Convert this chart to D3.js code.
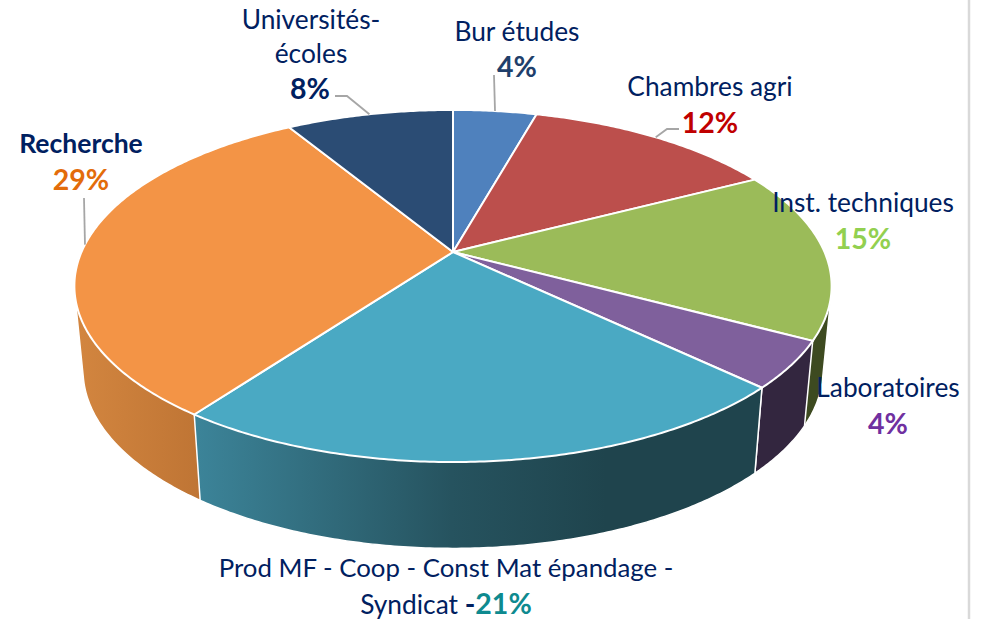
<!DOCTYPE html>
<html>
<head>
<meta charset="utf-8">
<script src="https://cdn.jsdelivr.net/npm/d3@7"></script>
<style>
	html, body { margin: 0; padding: 0; background: #fff; }
	svg { display: block; }
	text { font-family: Lato, 'Open Sans', sans-serif; font-size: 26.3px; fill: #002060; text-anchor: middle; }
	.pct { font-weight: bold; font-size: 28.5px; }
</style>
</head>
<body>
<div id="chart"></div>
<script>
// slices, clockwise from twelve o'clock
var categories = ['Bur études', 'Chambres agri', 'Inst. techniques', 'Laboratoires', 'Prod MF - Coop - Const Mat épandage - Syndicat', 'Recherche', 'Universités-écoles'];
var percentLabels = ['4%', '12%', '15%', '4%', '21%', '29%', '8%'];
var values = [4.3, 13, 15.6, 4.3, 22.8, 31.4, 8.6];
var sliceColors = ['#4F81BD', '#BC4F4C', '#9BBB59', '#7F609C', '#4AA9C3', '#F39446', '#2B4C74'];

var width = 989, height = 619;

// the top and bottom rims of the tilted pie, seen in perspective
var top3d = { x: 453, y: 252, rx: 371.5, ry: 169.5 },
	bottom3d = { x: 453, y: 336, rx: 363, ry: 171.4 },
	tilt = 0.193;

function project(rim, angle) {
	var w = 1 + tilt * Math.cos(angle);
	return [rim.x + rim.rx * Math.sin(angle) / w, rim.y - rim.ry * Math.cos(angle) / w];
}

function rimPoints(rim, a0, a1) {
	var steps = Math.max(2, Math.ceil((a1 - a0) / 0.01));
	return d3.range(steps + 1).map(function(i) {
		return project(rim, a0 + (a1 - a0) * i / steps);
	});
}

var svg = d3.select('#chart').append('svg').attr('width', width).attr('height', height);

// page edge on the right
svg.append('line').attr('x1', 969).attr('x2', 969).attr('y1', 0).attr('y2', height)
	.attr('stroke', '#D9D9D9').attr('stroke-width', 2.5);

var slices = d3.pie().sort(null).value(function(d) { return d; })(values);
var line = d3.line();

// side wall shading, only the four slices that face the viewer
var wallFills = {
	2: [['0%', '#3D4A20'], ['100%', '#3D4A20']],
	3: [['0%', '#33263F'], ['100%', '#33263F']],
	4: [['0%', '#3C8499'], ['45%', '#26535F'], ['72%', '#1F444D'], ['100%', '#1F444D']],
	5: [['0%', '#D2853F'], ['100%', '#BE7434']]
};
var defs = svg.append('defs');
var wallBox = { 2: [805, 830], 3: [754, 812], 4: [195, 765], 5: [80, 205] };
Object.keys(wallFills).forEach(function(k) {
	var grad = defs.append('linearGradient').attr('id', 'wall' + k)
		.attr('gradientUnits', 'userSpaceOnUse')
		.attr('x1', wallBox[k][0]).attr('x2', wallBox[k][1]).attr('y1', 0).attr('y2', 0);
	wallFills[k].forEach(function(s) {
		grad.append('stop').attr('offset', s[0]).attr('stop-color', s[1]);
	});
});

// add in the walls, the hull gives the straight tangent edge at both sides of the pie.
// drawn so that each neighbour covers what a hull spills over its end
var wallOrder = [2, 5, 3, 4];
svg.append('g').selectAll('path').data(wallOrder.map(function(i) { return slices[i]; }))
	.enter().append('path')
	.attr('d', function(d) {
		var upper = rimPoints(top3d, d.startAngle, d.endAngle),
			lower = rimPoints(bottom3d, d.startAngle, d.endAngle);
		return line(d3.polygonHull(upper.concat(lower))) + 'Z';
	})
	.attr('fill', function(d) { return 'url(#wall' + d.index + ')'; })
	.attr('stroke', '#fff').attr('stroke-width', 1.5).attr('stroke-linejoin', 'round');

// add in the top face
svg.append('g').selectAll('path').data(slices)
	.enter().append('path')
	.attr('d', function(d) {
		return line([[top3d.x, top3d.y]].concat(rimPoints(top3d, d.startAngle, d.endAngle))) + 'Z';
	})
	.attr('fill', function(d, i) { return sliceColors[i]; })
	.attr('stroke', '#fff').attr('stroke-width', 2).attr('stroke-linejoin', 'round');

// leader lines run from the middle of the slice's rim to a point by the label
var leaders = [
	{ slice: 0, via: [[494, 75]] },
	{ slice: 1, via: [[679, 129], [667, 129]] },
	{ slice: 5, via: [[84, 198]] },
	{ slice: 6, via: [[335, 96], [347, 96]] }
];
svg.append('g').selectAll('path').data(leaders)
	.enter().append('path')
	.attr('d', function(d) {
		var s = slices[d.slice];
		return line(d.via.concat([project(top3d, (s.startAngle + s.endAngle) / 2)]));
	})
	.attr('fill', 'none').attr('stroke', '#A6A6A6').attr('stroke-width', 1.8);

// labels: name lines first, then the percentage
var labels = [
	{ x: 311, y: 29, text: 'Universités-' },
	{ x: 311, y: 63, text: 'écoles' },
	{ x: 310, y: 99, text: percentLabels[6], cls: 'pct', color: '#002060' },
	{ x: 517, y: 41, text: 'Bur études' },
	{ x: 517, y: 77, text: percentLabels[0], cls: 'pct', color: '#1F3F6B' },
	{ x: 710, y: 96, text: 'Chambres agri' },
	{ x: 710, y: 133, text: percentLabels[1], cls: 'pct', color: '#C00000' },
	{ x: 863, y: 212, text: 'Inst. techniques' },
	{ x: 863, y: 249, text: percentLabels[2], cls: 'pct', color: '#92D050' },
	{ x: 888, y: 397, text: 'Laboratoires' },
	{ x: 888, y: 434, text: percentLabels[3], cls: 'pct', color: '#7030A0' },
	{ x: 81, y: 153, text: 'Recherche', cls: 'pct', color: '#002060', size: 26.5 },
	{ x: 81, y: 190, text: percentLabels[5], cls: 'pct', color: '#E36C0A' },
	{ x: 446, y: 577, text: 'Prod MF - Coop - Const Mat épandage -', size: 25.8 }
];
svg.append('g').selectAll('text').data(labels)
	.enter().append('text')
	.attr('x', function(d) { return d.x; })
	.attr('y', function(d) { return d.y; })
	.attr('class', function(d) { return d.cls || null; })
	.style('fill', function(d) { return d.color || null; })
	.style('font-size', function(d) { return d.size ? d.size + 'px' : null; })
	.text(function(d) { return d.text; });

// last line mixes three styles
var last = svg.append('text').attr('x', 446).attr('y', 613.5);
last.append('tspan').text('Syndicat ');
last.append('tspan').attr('class', 'pct').text('-');
last.append('tspan').attr('class', 'pct').style('fill', '#0E8A8F').text(percentLabels[4]);
</script>
</body>
</html>
